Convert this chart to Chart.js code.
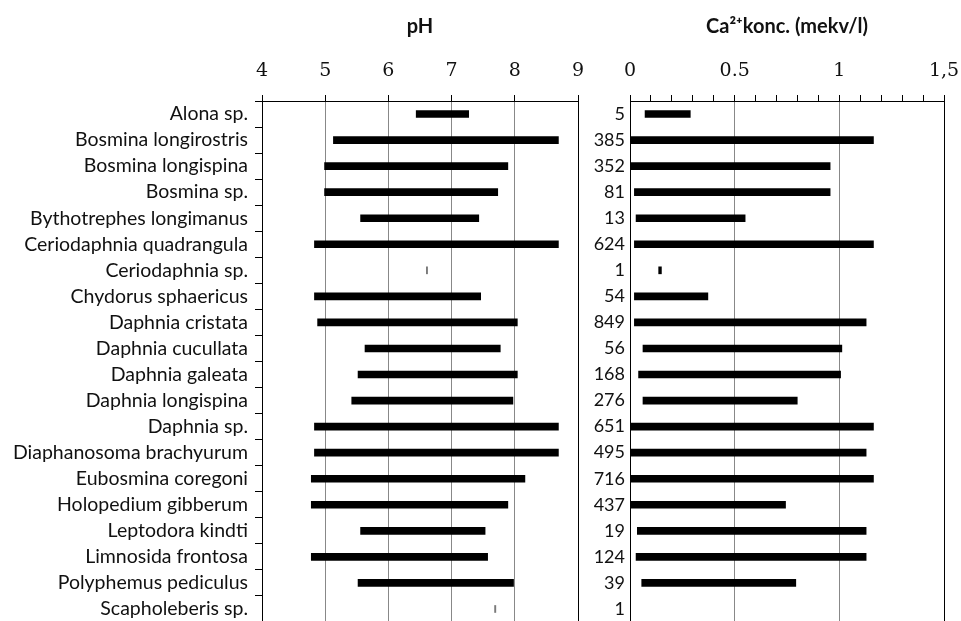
<!DOCTYPE html>
<html>
<head>
<meta charset="utf-8">
<script src="https://cdn.jsdelivr.net/npm/chart.js@4.4.0/dist/chart.umd.min.js"></script>
<style>
  html, body { margin: 0; padding: 0; background: #fff; }
  #wrap { position: relative; width: 961px; height: 621px; overflow: hidden; }
  #phBox { position: absolute; left: 0; top: 0; width: 590px; height: 622px; }
  #caBox { position: absolute; left: 580px; top: 0; width: 381px; height: 622px; }
</style>
</head>
<body>
<div id="wrap">
  <div id="phBox"><canvas id="phChart"></canvas></div>
  <div id="caBox"><canvas id="caChart"></canvas></div>
</div>
<script>
const species = [
  "Alona sp.", "Bosmina longirostris", "Bosmina longispina", "Bosmina sp.",
  "Bythotrephes longimanus", "Ceriodaphnia quadrangula", "Ceriodaphnia sp.",
  "Chydorus sphaericus", "Daphnia cristata", "Daphnia cucullata", "Daphnia galeata",
  "Daphnia longispina", "Daphnia sp.", "Diaphanosoma brachyurum", "Eubosmina coregoni",
  "Holopedium gibberum", "Leptodora kindti", "Limnosida frontosa",
  "Polyphemus pediculus", "Scapholeberis sp."
];

// pH range per species
const phMin = [6.44, 5.13, 4.99, 4.99, 5.56, 4.83, 6.60, 4.83, 4.88, 5.63, 5.52, 5.42, 4.83, 4.83, 4.78, 4.78, 5.56, 4.78, 5.52, 7.68];
const phMax = [7.27, 8.69, 7.89, 7.73, 7.43, 8.69, 6.62, 7.46, 8.04, 7.77, 8.04, 7.97, 8.69, 8.69, 8.16, 7.89, 7.53, 7.57, 7.98, 7.70];

// number of samples (shown as labels of the right panel)
const counts = [5, 385, 352, 81, 13, 624, 1, 54, 849, 56, 168, 276, 651, 495, 716, 437, 19, 124, 39, 1];

// Ca2+ range per species (mekv/l)
const caMin = [0.072, 0.005, 0.005, 0.021, 0.029, 0.021, 0.137, 0.021, 0.021, 0.062, 0.041, 0.062, 0.005, 0.005, 0.005, 0.005, 0.035, 0.029, 0.056, null];
const caMax = [0.288, 1.163, 0.956, 0.956, 0.550, 1.163, 0.150, 0.372, 1.128, 1.012, 1.006, 0.799, 1.163, 1.128, 1.163, 0.743, 1.128, 1.128, 0.792, null];

const caTickLabels = ["0", "0.5", "1", "1,5"];

const textColor = "#111";
const gridGray = "#888";
const serifTicks = { family: "DejaVu Serif", size: 19 };
const titleFont = { family: "Lato", size: 20, weight: "bold" };

const phRanges = species.map((s, i) => [phMin[i], phMax[i]]);
const caRanges = species.map((s, i) => (caMin[i] === null ? null : [caMin[i], caMax[i]]));

// keep the plot edges where they are, labels may hang over
const topAxisFit = (scale) => {
  scale.height = 101;
  scale.paddingLeft = 0;
  scale.paddingRight = 0;
};
const sideAxisFit = (w) => (scale) => {
  scale.width = w;
  scale.paddingTop = 0;
  scale.paddingBottom = 0;
};

const phChart = new Chart(document.getElementById("phChart"), {
  type: "bar",
  data: {
    labels: species,
    datasets: [{
      data: phRanges,
      backgroundColor: phRanges.map((r) => (r[1] - r[0] < 0.05 ? "#7a7a7a" : "#000")),
      barThickness: 7,
    }],
  },
  options: {
    indexAxis: "y",
    responsive: true,
    maintainAspectRatio: false,
    animation: false,
    layout: { padding: { right: 12 } },
    plugins: { legend: { display: false }, tooltip: { enabled: false } },
    scales: {
      x: {
        position: "top",
        min: 4,
        max: 9,
        ticks: { stepSize: 1, autoSkip: false, maxRotation: 0, color: textColor, font: serifTicks, padding: 13 },
        grid: {
          color: (c) => (c.tick && (c.tick.value === 4 || c.tick.value === 9) ? "#000" : gridGray),
          tickColor: "#000",
          tickLength: 6,
        },
        border: { color: "#000" },
        title: { display: true, text: "pH", color: textColor, font: titleFont, padding: { top: 15 } },
        afterFit: topAxisFit,
      },
      y: {
        ticks: { autoSkip: false, color: textColor, font: { family: "Lato", size: 19.5 }, padding: 7 },
        grid: { drawOnChartArea: false, tickLength: 7, color: "#000", offset: true },
        border: { color: "#000" },
        afterFit: sideAxisFit(262),
      },
    },
  },
});

const caGridColor = (c) => {
  const v = c.tick ? c.tick.value : 0;
  if (v < 1e-6 || Math.abs(v - 1.5) < 1e-6) return "#000";
  if (Math.abs(v - 0.5) < 1e-6 || Math.abs(v - 1) < 1e-6) return gridGray;
  return "rgba(0,0,0,0)";
};

const caChart = new Chart(document.getElementById("caChart"), {
  type: "bar",
  data: {
    labels: counts.map(String),
    datasets: [{
      data: caRanges,
      backgroundColor: "#000",
      barThickness: 7,
    }],
  },
  options: {
    indexAxis: "y",
    responsive: true,
    maintainAspectRatio: false,
    animation: false,
    layout: { padding: { right: 17 } },
    plugins: { legend: { display: false }, tooltip: { enabled: false } },
    scales: {
      x: {
        position: "top",
        min: 0,
        max: 1.5,
        ticks: {
          stepSize: 0.1,
          autoSkip: false,
          maxRotation: 0,
          color: textColor,
          font: serifTicks,
          padding: 13,
          callback: (v) => {
            const k = Math.round(v * 2);
            return Math.abs(v * 2 - k) < 1e-6 ? caTickLabels[k] : "";
          },
        },
        grid: { color: caGridColor, tickColor: "#000", tickLength: 6 },
        border: { color: "#000" },
        title: { display: true, text: "Ca²⁺konc. (mekv/l)", color: textColor, font: titleFont, padding: { top: 15 } },
        afterFit: topAxisFit,
      },
      y: {
        ticks: { autoSkip: false, color: textColor, font: { family: "Lato", size: 18 }, padding: 5 },
        grid: { drawOnChartArea: false, drawTicks: false, tickLength: 0 },
        border: { color: "#000" },
        afterFit: sideAxisFit(50),
      },
    },
  },
});
</script>
</body>
</html>
